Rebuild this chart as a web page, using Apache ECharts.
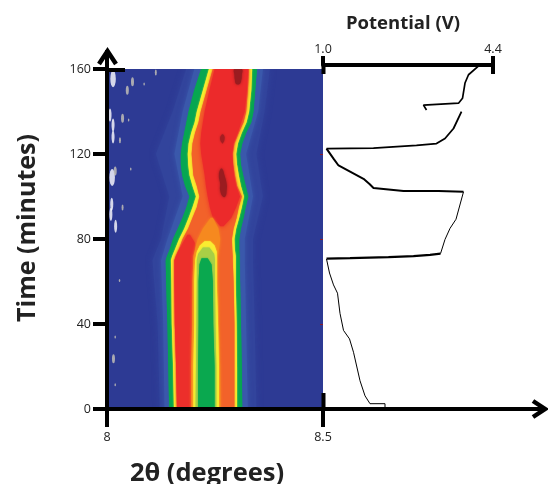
<!DOCTYPE html>
<html><head><meta charset="utf-8">
<style>html,body{margin:0;padding:0;background:#fff}#c{width:548px;height:484px}</style>
<script src="https://cdn.jsdelivr.net/npm/echarts@6/dist/echarts.min.js"></script></head>
<body><div id="c"></div>
<script>
// ---- contour edges, 2θ in degrees at each time (minutes) ----
const edgeTimes   = [0,20,40,60,70,72,75,80,85,90,95,100,105,110,115,120,125,130,135,140,150,160];
const greenLeft   = [8.144,8.142,8.140,8.137,8.136,8.139,8.145,8.153,8.164,8.175,8.184,8.191,8.181,8.174,8.171,8.171,8.174,8.179,8.184,8.189,8.202,8.218];
const yellowLeft  = [8.155,8.153,8.150,8.149,8.148,8.151,8.157,8.167,8.179,8.189,8.198,8.206,8.198,8.191,8.188,8.187,8.189,8.195,8.203,8.208,8.222,8.236];
const bodyLeft    = [8.162,8.160,8.157,8.156,8.156,8.159,8.166,8.175,8.188,8.198,8.208,8.214,8.208,8.200,8.198,8.196,8.198,8.204,8.212,8.217,8.231,8.245];
const bodyRight   = [8.295,8.295,8.295,8.293,8.291,8.291,8.290,8.289,8.293,8.300,8.305,8.312,8.301,8.296,8.292,8.291,8.295,8.305,8.316,8.322,8.326,8.329];
const yellowRight = [8.301,8.301,8.300,8.298,8.298,8.298,8.296,8.295,8.299,8.306,8.312,8.317,8.310,8.305,8.301,8.299,8.303,8.312,8.323,8.329,8.334,8.336];
const greenRight  = [8.313,8.312,8.310,8.308,8.307,8.307,8.306,8.306,8.310,8.316,8.321,8.327,8.321,8.315,8.310,8.308,8.313,8.322,8.334,8.339,8.343,8.347];

const haloTimes = [0,40,70,80,100,120,140,160];
const wideLeft  = [8.122,8.117,8.105,8.125,8.144,8.113,8.152,8.183];
const wideRight = [8.346,8.342,8.338,8.338,8.361,8.346,8.365,8.377];
const nearLeft  = [8.133,8.130,8.125,8.140,8.175,8.156,8.175,8.202];
const nearRight = [8.326,8.322,8.319,8.319,8.338,8.322,8.350,8.361];

const redTopTimes = [86,90,95,100,105,110,120,125,130,140,150,160];
const redTopLeft  = [8.262,8.245,8.238,8.233,8.229,8.226,8.218,8.216,8.218,8.226,8.237,8.249];
const redTopRight = [8.270,8.288,8.299,8.308,8.299,8.294,8.290,8.293,8.303,8.319,8.324,8.327];

const redLowTimes = [0,20,40,60,70,74,78,82];
const redLowLeft  = [8.162,8.160,8.157,8.156,8.156,8.164,8.175,8.186];
const redLowRight = [8.200,8.198,8.198,8.198,8.200,8.203,8.204,8.192];

const haloCoreTimes = [0,20,40,60,72,76,80,85,90];
const haloCoreLeft  = [8.195,8.195,8.197,8.198,8.200,8.205,8.210,8.222,8.240];
const haloCoreRight = [8.263,8.262,8.259,8.257,8.257,8.260,8.262,8.258,8.245];

const yellowCoreTimes = [0,20,40,60,70,74,77,79];
const yellowCoreLeft  = [8.200,8.200,8.202,8.202,8.204,8.208,8.215,8.226];
const yellowCoreRight = [8.259,8.259,8.257,8.254,8.254,8.254,8.249,8.239];

const limeCoreTimes = [0,20,40,60,70,73,76];
const limeCoreLeft  = [8.205,8.206,8.207,8.208,8.208,8.211,8.222];
const limeCoreRight = [8.253,8.253,8.251,8.250,8.250,8.248,8.237];

const greenCoreTimes = [0,20,40,60,68,71];
const greenCoreLeft  = [8.211,8.211,8.212,8.212,8.214,8.219];
const greenCoreRight = [8.249,8.249,8.246,8.245,8.242,8.233];

const spotATimes = [153,155,157,160];
const spotALeft  = [8.299,8.296,8.295,8.295];
const spotARight = [8.307,8.311,8.312,8.312];
const spotBTimes = [100,103,106,110,113];
const spotBLeft  = [8.268,8.262,8.262,8.259,8.263];
const spotBRight = [8.274,8.277,8.277,8.272,8.267];
const spotCTimes = [125,127,129];
const spotCLeft  = [8.267,8.262,8.265];
const spotCRight = [8.268,8.272,8.270];

// ---- specks near the low-angle edge: [2θ, time] ----
const bigSpecks    = [[8.014,155.4],[8.012,109]];
const whiteSpecks  = [[8.007,138.3],[8.014,133.6],[8.014,128],[8.011,96.4],[8.009,91.6],[8.020,86]];
const greySpecks   = [[8.059,154],[8.047,150],[8.036,136.8],[8.019,112],[8.015,23.6]];
const smallSpecks  = [[8.113,158.4],[8.030,126.5],[8.036,94.8]];
const tinySpecks   = [[8.086,153],[8.050,136],[8.055,113],[8.029,60.5],[8.019,33.9],[8.019,11.4]];

// ---- potential trace: [V, time] ----
const potentialDischarge = [[2.24,0.6],[2.24,2.5],[1.94,2.5],[1.84,6.2],[1.74,13.3],[1.61,26.7],[1.53,33],[1.41,37],[1.34,45],[1.29,54.5],[1.21,58.4],[1.13,64],[1.07,70.6]];
const potentialFlat1 = [[1.07,70.8],[1.54,71],[2.31,71.5],[2.81,71.9],[3.14,72.5],[3.35,73.1]];
const potentialRise1 = [[3.35,73.1],[3.44,79.8],[3.54,85],[3.66,89.3],[3.81,102.2]];
const potentialFlat2 = [[3.81,102.2],[3.31,102.6],[2.61,102.6],[2.01,104],[1.93,105.9],[1.81,108.3],[1.31,114.6],[1.21,117.8],[1.07,122.5]];
const potentialFlat3 = [[1.07,122.5],[2.01,122.8],[2.87,124.1],[3.27,124.9],[3.44,127.3],[3.61,132],[3.77,139.9]];
const potentialTail  = [[3.07,140.7],[3.01,143],[3.71,143.9],[3.79,146.2],[3.84,153.4],[3.91,157.3],[4.13,161.8]];

// ---- axis labels ----
const timeTicks = [0,40,80,120,160];
const thetaTicks = [8,8.5];
const potentialTicks = [1,4.4];
const midTicks = [40,80,120];

const FONT = 'Open Sans';
function band(name, times, left, right, color, blur, smooth){
  return {
    type:'custom', name, xAxisIndex:0, yAxisIndex:0, silent:true,
    data: times.map((t,i)=>[left[i],right[i],t]),
    encode:{x:[0,1],y:2},
    renderItem(params, api){
      if(params.dataIndex!==0) return null;
      const pts=[];
      times.forEach((t,i)=>pts.push(api.coord([left[i],t])));
      for(let i=times.length-1;i>=0;i--) pts.push(api.coord([right[i],times[i]]));
      const cs=params.coordSys;
      return {type:'polygon',shape:{points:pts,smooth:smooth?0.5:0},
        style:{fill:color,shadowBlur:blur,shadowColor:color},
        clipPath:{type:'rect',shape:{x:cs.x,y:cs.y,width:cs.width,height:cs.height}}};
    }
  };
}
function trace(name,data,width){
  return {type:'line',name,xAxisIndex:1,yAxisIndex:1,data,showSymbol:false,clip:false,silent:true,
    lineStyle:{color:'#000',width},z:6};
}
function specks(name,data,color,size){
  return {type:'scatter',name,xAxisIndex:0,yAxisIndex:0,data,symbol:'circle',symbolSize:size,
    itemStyle:{color},silent:true,z:4};
}
const seg=(x1,y1,x2,y2,w)=>({type:'line',z:20,shape:{x1,y1,x2,y2},style:{stroke:'#000',lineWidth:w}});
const chevron=(pts)=>({type:'polyline',z:20,shape:{points:pts},style:{stroke:'#000',lineWidth:4.5,fill:'none',lineJoin:'miter'}});

const chart=echarts.init(document.getElementById('c'),null,{renderer:'canvas'});
chart.setOption({
  animation:false,
  backgroundColor:'#fff',
  textStyle:{fontFamily:FONT},
  grid:[
    {left:107,top:69,width:216,height:340,show:true,backgroundColor:'#2d3a94',borderWidth:0,outerBoundsMode:'none',containLabel:false},
    {left:323,top:69,width:170,height:340,show:false,outerBoundsMode:'none',containLabel:false}
  ],
  xAxis:[
    {gridIndex:0,type:'value',min:8,max:8.5,position:'bottom',
     name:'2θ (degrees)',nameLocation:'middle',nameGap:52,
     nameTextStyle:{fontFamily:FONT,fontSize:25.5,fontWeight:'bold',color:'#222',padding:[0,16,0,0]},
     splitLine:{show:false},z:8,
     axisLine:{show:true,onZero:false,lineStyle:{color:'#000',width:4}},
     axisTick:{show:true,length:18,lineStyle:{color:'#000',width:4},customValues:thetaTicks},
     axisLabel:{margin:22,fontSize:12.5,color:'#222',fontFamily:FONT,customValues:thetaTicks,
       formatter:v=>String(v),hideOverlap:false}},
    {gridIndex:1,type:'value',min:1,max:4.4,position:'top',offset:4,
     name:'Potential (V)',nameLocation:'middle',nameGap:32,
     nameTextStyle:{fontFamily:FONT,fontSize:18.5,fontWeight:'bold',color:'#222',padding:[0,10,0,0]},
     splitLine:{show:false},z:8,
     axisLine:{show:true,onZero:false,lineStyle:{color:'#000',width:4}},
     axisTick:{show:true,length:9,lineStyle:{color:'#000',width:4},customValues:potentialTicks},
     axisLabel:{margin:9,fontSize:12.5,color:'#222',fontFamily:FONT,customValues:potentialTicks,
       formatter:v=>v.toFixed(1),hideOverlap:false}}
  ],
  yAxis:[
    {gridIndex:0,type:'value',min:0,max:160,interval:40,position:'left',
     name:'Time (minutes)',nameLocation:'middle',nameGap:67,nameRotate:90,
     nameTextStyle:{fontFamily:FONT,fontSize:25,fontWeight:'bold',color:'#222',padding:[0,0,0,22]},
     splitLine:{show:false},z:8,
     axisLine:{show:true,onZero:false,lineStyle:{color:'#000',width:4}},
     axisTick:{show:true,length:14,lineStyle:{color:'#000',width:4}},
     axisLabel:{margin:16,fontSize:12.5,color:'#222',fontFamily:FONT,customValues:timeTicks}},
    {gridIndex:1,type:'value',min:0,max:160,interval:40,position:'left',
     splitLine:{show:false},z:8,
     axisLine:{show:false,onZero:false},
     axisTick:{show:true,length:3,lineStyle:{color:'#8a1c2b',width:1},customValues:midTicks},
     axisLabel:{show:false}}
  ],
  graphic:[
    seg(107,70,107,50,4),
    seg(105,70,125,70,4),
    chevron([[99,64],[107.5,51],[116,64]]),
    seg(323,409,545,409,4),
    chevron([[533,401],[545,409],[533,417]]),
    seg(323.5,393,323.5,409,4),
    seg(323.5,65,323.5,74,4),
    seg(493,65,493,74,4)
  ],
  series:[
    band('wide halo',haloTimes,wideLeft,wideRight,'#32449c',6),
    band('near halo',haloTimes,nearLeft,nearRight,'#3a58ab',5),
    band('green',edgeTimes,greenLeft,greenRight,'#07a651',1),
    band('yellow',edgeTimes,yellowLeft,yellowRight,'#f7ec2d',1.5),
    band('body',edgeTimes,bodyLeft,bodyRight,'#f2622a',1.5),
    band('red top',redTopTimes,redTopLeft,redTopRight,'#ec2a2b',4),
    band('red low',redLowTimes,redLowLeft,redLowRight,'#ec2f2b',3),
    band('core halo',haloCoreTimes,haloCoreLeft,haloCoreRight,'#f6891f',3),
    band('core yellow',yellowCoreTimes,yellowCoreLeft,yellowCoreRight,'#f9ec31',1.5),
    band('core lime',limeCoreTimes,limeCoreLeft,limeCoreRight,'#a9cf46',1.5),
    band('core green',greenCoreTimes,greenCoreLeft,greenCoreRight,'#0aa84f',1.5),
    band('spot A',spotATimes,spotALeft,spotARight,'#9a1c20',3,true),
    band('spot B',spotBTimes,spotBLeft,spotBRight,'#9a1c20',3,true),
    band('spot C',spotCTimes,spotCLeft,spotCRight,'#a51e22',2,true),
    specks('big specks',bigSpecks,'#ffffff',[5.5,17]),
    specks('white specks',whiteSpecks,'#ffffff',[3,13]),
    specks('grey specks',greySpecks,'#c9c6b8',[3,9]),
    specks('small specks',smallSpecks,'#c9c6b8',[2,6]),
    specks('tiny specks',tinySpecks,'#c9c6b8',[1.5,3]),
    trace('potential discharge',potentialDischarge,1),
    trace('potential flat 1',potentialFlat1,2.2),
    trace('potential rise 1',potentialRise1,1),
    trace('potential flat 2',potentialFlat2,2),
    trace('potential flat 3',potentialFlat3,1.8),
    trace('potential tail',potentialTail,1.7)
  ]
});
</script></body></html>
